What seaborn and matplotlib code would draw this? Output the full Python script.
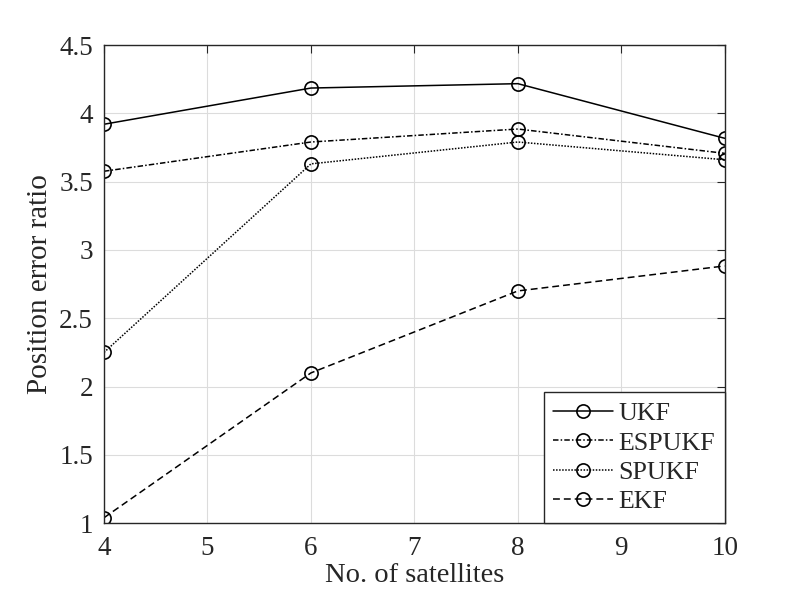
import matplotlib
matplotlib.use("Agg")
import matplotlib.pyplot as plt
import seaborn as sns
import pandas as pd

satellites = [4, 6, 8, 10]
ukf = [3.92, 4.185, 4.217, 3.817]
espukf = [3.576, 3.79, 3.885, 3.707]
spukf = [2.25, 3.63, 3.79, 3.66]
ekf = [1.04, 2.10, 2.70, 2.883]
series_names = ["UKF", "ESPUKF", "SPUKF", "EKF"]

sns.set_theme(style="white")
plt.rcParams['font.family'] = ['Liberation Serif', 'DejaVu Serif']
plt.rcParams['mathtext.fontset'] = 'stix'

fig, ax = plt.subplots(figsize=(8, 6), dpi=100)
fig.subplots_adjust(left=0.13, right=0.906, top=0.925, bottom=0.128)

styles = {"UKF": "-", "ESPUKF": (0, (3.6, 1.4, 1.0, 1.4)),
          "SPUKF": (0, (1.0, 1.0)), "EKF": (0, (4.5, 2.6))}
data = {"UKF": ukf, "ESPUKF": espukf, "SPUKF": spukf, "EKF": ekf}
for name in series_names:
    df = pd.DataFrame({"x": satellites, "y": data[name]})
    sns.lineplot(data=df, x="x", y="y", ax=ax, color="black", linestyle=styles[name],
                 linewidth=1.1, marker="o", markersize=9.5, markerfacecolor="none",
                 markeredgecolor="black", markeredgewidth=1.2, label=name)

ax.set_xlim(4, 10)
ax.set_ylim(1, 4.5)
ax.set_xticks([4, 5, 6, 7, 8, 9, 10])
ax.set_yticks([1, 1.5, 2, 2.5, 3, 3.5, 4, 4.5])
ax.set_yticklabels(["1", "1.5", "2", "2.5", "3", "3.5", "4", "4.5"])
ax.grid(True, color="#dcdcdc", linewidth=0.8)
ax.set_axisbelow(True)
ax.tick_params(direction="in", length=6, width=0.8, top=True, right=True,
               labelsize=19.5, colors="#262626")
ax.tick_params(axis="x", pad=9)
ax.tick_params(axis="y", pad=8)
for s in ax.spines.values():
    s.set_color("#262626")
    s.set_linewidth(1.0)
ax.set_xlabel("No. of satellites", fontsize=20.5, color="#262626", labelpad=2)
ax.set_ylabel("Position error ratio", fontsize=21, color="#262626", labelpad=4)

leg = ax.legend(loc="lower right", fontsize=18.7, frameon=True, fancybox=False,
                edgecolor="#262626", framealpha=1, borderaxespad=0,
                handlelength=2.3, handletextpad=0.2, labelspacing=0.24,
                borderpad=0.38)
leg.get_frame().set_linewidth(1.0)

fig.savefig("out.png", dpi=100)
